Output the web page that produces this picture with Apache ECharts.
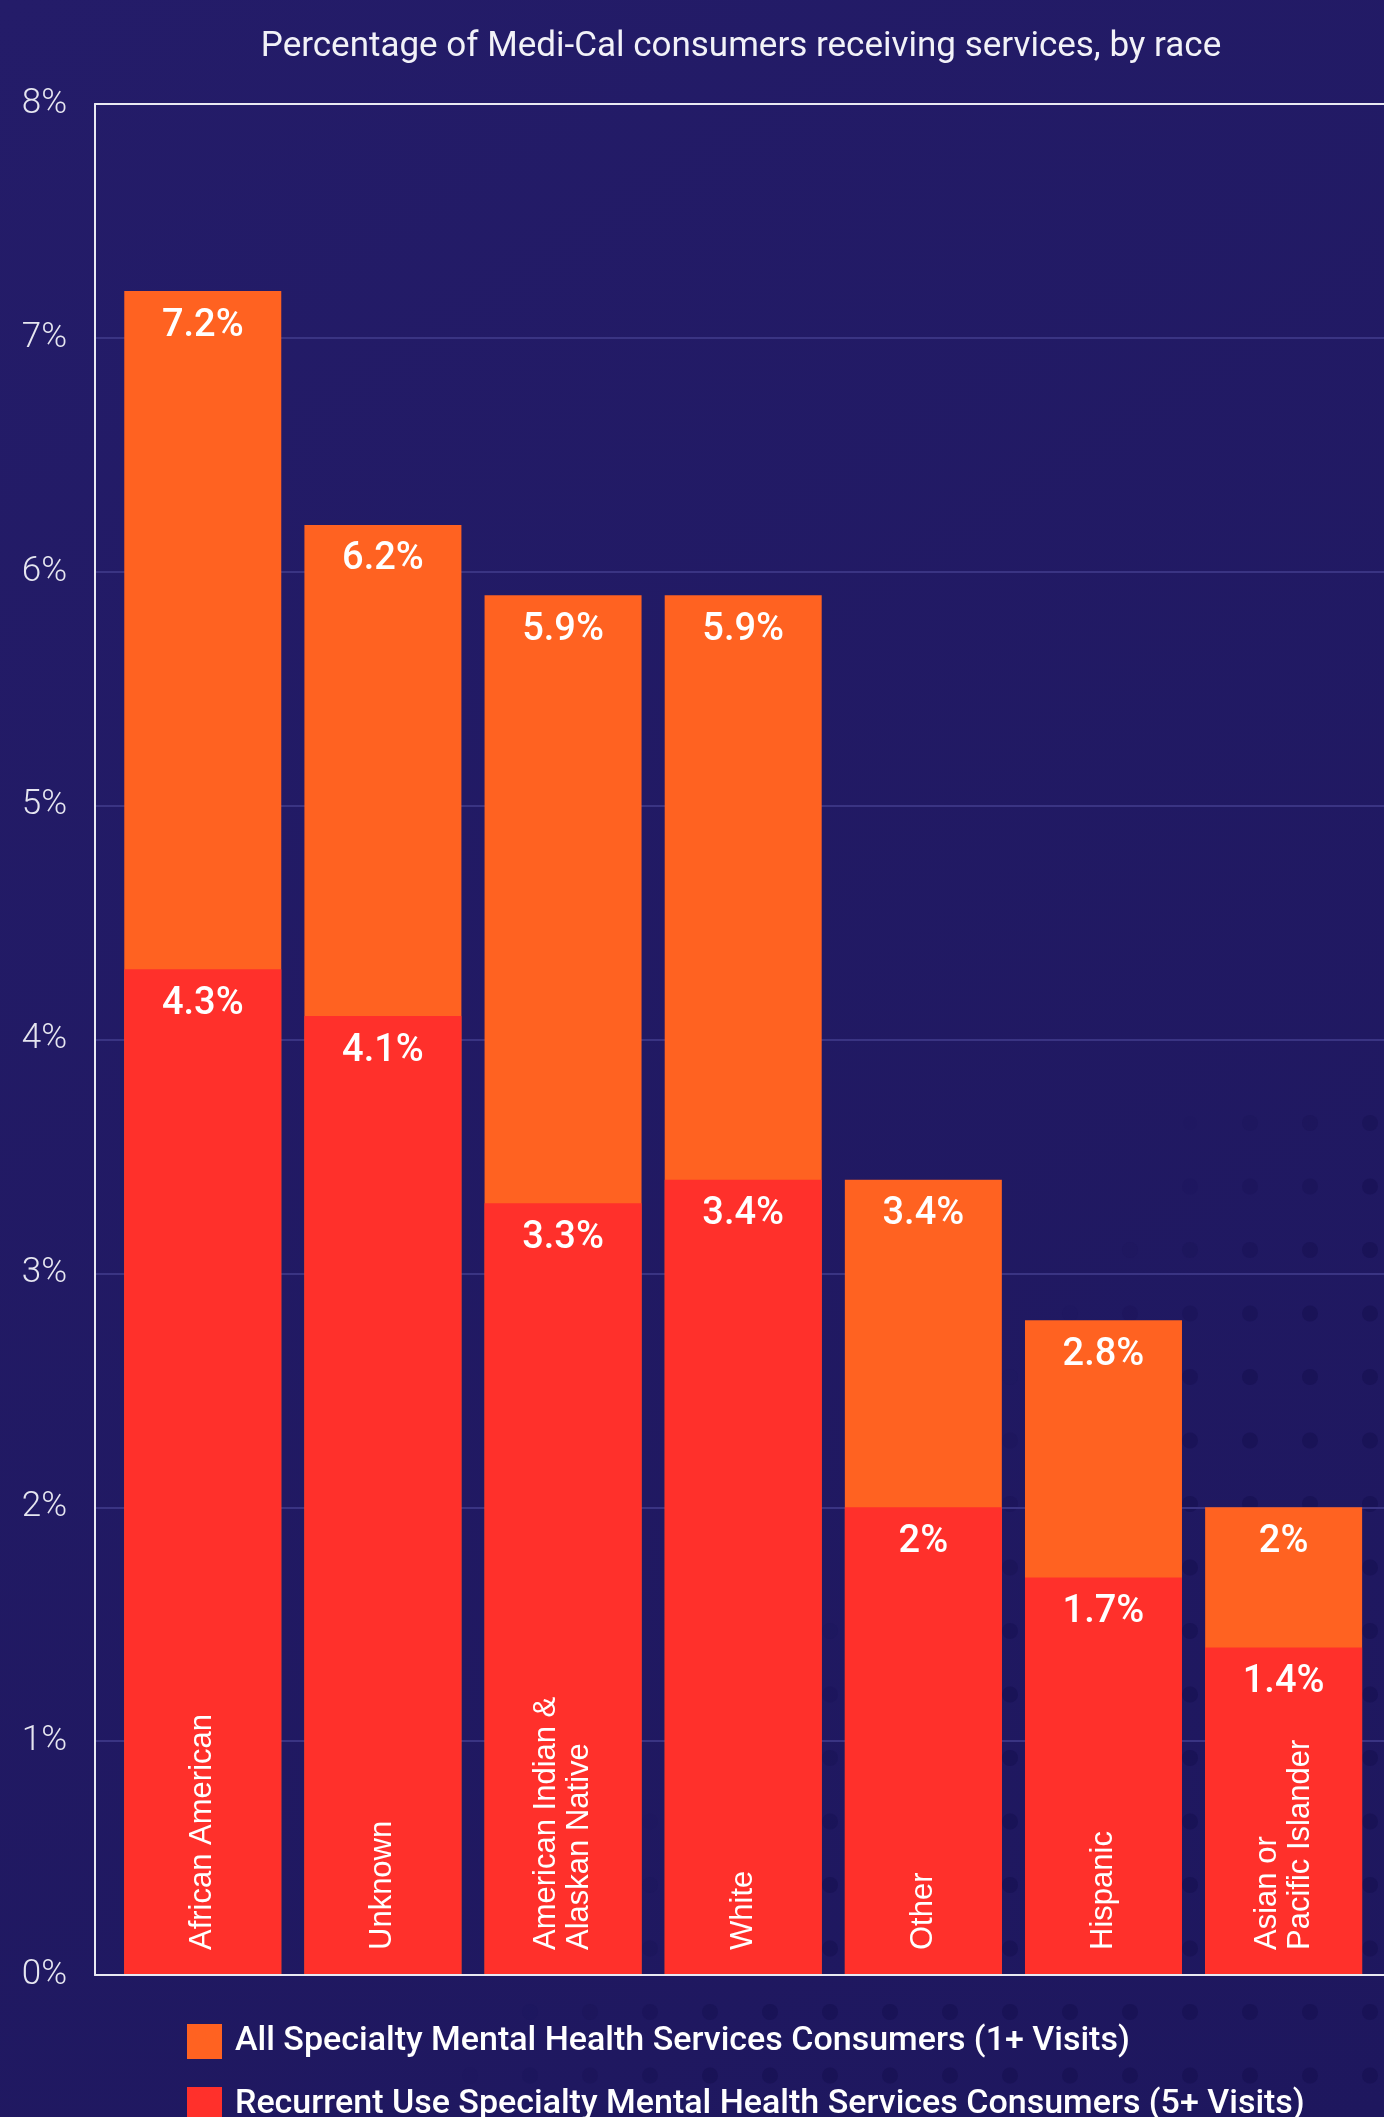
<!DOCTYPE html>
<html>
<head>
<meta charset="utf-8">
<script src="https://cdn.jsdelivr.net/npm/echarts@6/dist/echarts.min.js"></script>
<style>
  html, body { margin: 0; padding: 0; background: #211a62; }
  #chart { width: 1384px; height: 2117px; }
</style>
</head>
<body>
<div id="chart"></div>
<script>
// Categories (race groups), in display order
const categories = [
  'African American',
  'Unknown',
  'American Indian &\nAlaskan Native',
  'White',
  'Other',
  'Hispanic',
  'Asian or\nPacific Islander'
];

// Percent of Medi-Cal consumers with 1+ specialty mental health visits
const allVisits = [7.2, 6.2, 5.9, 5.9, 3.4, 2.8, 2];

// Percent of Medi-Cal consumers with 5+ specialty mental health visits
const recurrentVisits = [4.3, 4.1, 3.3, 3.4, 2, 1.7, 1.4];

const seriesNames = [
  'All Specialty Mental Health Services Consumers (1+ Visits)',
  'Recurrent Use Specialty Mental Health Services Consumers (5+ Visits)'
];

const subtitle = 'Percentage of Medi-Cal consumers receiving services, by race';

// y axis range and step (percent)
const yMin = 0, yMax = 8, yStep = 1;

const ORANGE = '#ff6221';
const RED = '#ff302b';

// Faint dotted texture in the lower-right part of the background
function dotTexture() {
  const dots = [];
  for (let row = 0; row < 16; row++) {
    const cy = 1123 + row * 63.5;
    const edge = 1190 - 0.78 * (cy - 1120);
    for (let col = 0; col < 23; col++) {
      const cx = 110 + col * 60;
      const t = (cx - edge) / 260;
      if (t <= 0) continue;
      dots.push({
        type: 'circle',
        silent: true,
        z: -10,
        shape: { cx: cx, cy: cy, r: 8 },
        style: { fill: '#140e4e', opacity: Math.min(1, t) * 0.5 }
      });
    }
  }
  return dots;
}

const chart = echarts.init(document.getElementById('chart'), null, { renderer: 'canvas' });

const frameLine = { show: true, lineStyle: { color: '#e9e9f2', width: 2 } };

const option = {
  animation: false,
  backgroundColor: {
    type: 'linear', x: 0, y: 0, x2: 1, y2: 1,
    colorStops: [
      { offset: 0, color: '#241c69' },
      { offset: 1, color: '#1e175e' }
    ]
  },
  textStyle: { fontFamily: 'Roboto' },
  graphic: [
    ...dotTexture(),
    {
      type: 'text',
      silent: true,
      x: 741,
      y: 30,
      style: {
        text: subtitle,
        align: 'center',
        verticalAlign: 'top',
        fill: '#f2f2f8',
        font: '400 35px Roboto'
      }
    }
  ],
  legend: {
    orient: 'vertical',
    left: 182,
    top: 2019,
    height: 98,
    itemWidth: 35,
    itemHeight: 35,
    itemGap: 28,
    icon: 'rect',
    selectedMode: false,
    textStyle: {
      color: '#ffffff',
      fontSize: 34,
      fontWeight: 500,
      fontFamily: 'Roboto',
      padding: [0, 0, 0, 8]
    },
    data: seriesNames
  },
  grid: [
    // frame: y axis, gridlines, top and bottom rules
    { left: 95, right: 0, top: 104, bottom: 142 },
    // bars
    { left: 112.7, right: 10.3, top: 104, bottom: 142 }
  ],
  xAxis: [
    {
      gridIndex: 0, type: 'value', min: 0, max: 1, position: 'bottom', z: 3,
      axisLine: frameLine, axisTick: { show: false }, axisLabel: { show: false }, splitLine: { show: false }
    },
    {
      gridIndex: 0, type: 'value', min: 0, max: 1, position: 'top', z: 3,
      axisLine: frameLine, axisTick: { show: false }, axisLabel: { show: false }, splitLine: { show: false }
    },
    {
      gridIndex: 1, type: 'category', data: categories, z: 10,
      axisLine: { show: false }, axisTick: { show: false },
      axisLabel: {
        inside: true,
        rotate: 90,
        margin: 25,
        interval: 0,
        color: '#ffffff',
        fontSize: 31,
        lineHeight: 33,
        fontFamily: '"Liberation Sans", Arial, sans-serif'
      }
    }
  ],
  yAxis: [
    {
      gridIndex: 0, type: 'value', min: yMin, max: yMax, interval: yStep,
      axisLine: frameLine,
      axisTick: { show: false },
      axisLabel: {
        formatter: '{value}%',
        color: '#e6e6f0',
        fontSize: 35,
        fontWeight: 300,
        fontFamily: 'Roboto',
        margin: 28
      },
      splitLine: { show: true, lineStyle: { color: '#3a3483', width: 2 } }
    },
    {
      gridIndex: 1, type: 'value', min: yMin, max: yMax, interval: yStep, show: false
    }
  ],
  series: [
    {
      name: seriesNames[0],
      type: 'bar',
      xAxisIndex: 2,
      yAxisIndex: 1,
      data: allVisits,
      barWidth: 157,
      barGap: '-100%',
      itemStyle: { color: ORANGE },
      label: {
        show: true,
        position: 'insideTop',
        distance: 16,
        formatter: '{c}%',
        color: '#ffffff',
        fontSize: 38,
        fontWeight: 500,
        fontFamily: 'Roboto'
      }
    },
    {
      name: seriesNames[1],
      type: 'bar',
      xAxisIndex: 2,
      yAxisIndex: 1,
      data: recurrentVisits,
      barWidth: 157,
      barGap: '-100%',
      itemStyle: { color: RED },
      label: {
        show: true,
        position: 'insideTop',
        distance: 16,
        formatter: '{c}%',
        color: '#ffffff',
        fontSize: 38,
        fontWeight: 500,
        fontFamily: 'Roboto'
      }
    }
  ]
};

chart.setOption(option);
</script>
</body>
</html>
